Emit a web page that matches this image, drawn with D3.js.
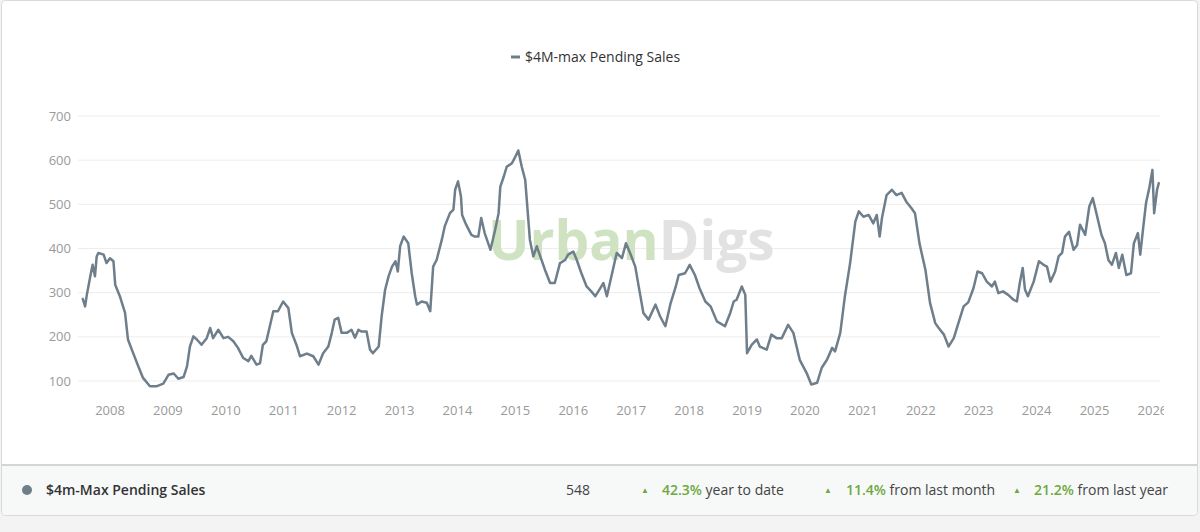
<!DOCTYPE html>
<html lang="en">
<head>
    <meta charset="UTF-8">
    <title>$4M-max Pending Sales</title>
    <script src="https://d3js.org/d3.v7.min.js"></script>
    <style>
        body {
            margin: 0;
            padding: 0;
            background: #f3f3f3;
            font-family: "Open Sans", Arial, sans-serif;
        }
        .grid line { stroke: #ededed; stroke-width: 1; }
        .tick-label { fill: #999; font-size: 13px; }
        .series-line {
            fill: none;
            stroke: #6e7e8b;
            stroke-width: 2.5;
            stroke-linejoin: round;
            stroke-linecap: round;
        }
    </style>
</head>
<body>
<div id="chart"></div>
<script>
    // decimal years
    const dates = [
        2007.53, 2007.57, 2007.60, 2007.66, 2007.70, 2007.74, 2007.77, 2007.80, 2007.89, 2007.94,
        2008.00, 2008.06, 2008.09, 2008.17, 2008.26, 2008.31, 2008.40, 2008.49, 2008.57, 2008.69,
        2008.80, 2008.92, 2009.01, 2009.10, 2009.18, 2009.27, 2009.33, 2009.38, 2009.44, 2009.50,
        2009.58, 2009.67, 2009.73, 2009.78, 2009.87, 2009.96, 2010.04, 2010.13, 2010.21, 2010.30,
        2010.39, 2010.44, 2010.53, 2010.59, 2010.64, 2010.70, 2010.76, 2010.82, 2010.90, 2010.99,
        2011.08, 2011.14, 2011.23, 2011.28, 2011.40, 2011.51, 2011.60, 2011.68, 2011.77, 2011.83,
        2011.88, 2011.94, 2012.00, 2012.09, 2012.17, 2012.23, 2012.29, 2012.34, 2012.43, 2012.49,
        2012.54, 2012.64, 2012.69, 2012.75, 2012.81, 2012.87, 2012.93, 2012.97, 2013.01, 2013.07,
        2013.15, 2013.21, 2013.27, 2013.30, 2013.38, 2013.47, 2013.53, 2013.58, 2013.64, 2013.73,
        2013.78, 2013.87, 2013.93, 2013.96, 2014.01, 2014.06, 2014.08, 2014.15, 2014.24, 2014.30,
        2014.36, 2014.41, 2014.47, 2014.57, 2014.65, 2014.71, 2014.74, 2014.80, 2014.85, 2014.94,
        2015.00, 2015.05, 2015.11, 2015.17, 2015.21, 2015.25, 2015.31, 2015.37, 2015.43, 2015.51,
        2015.60, 2015.68, 2015.77, 2015.86, 2015.91, 2016.00, 2016.06, 2016.14, 2016.23, 2016.31,
        2016.38, 2016.47, 2016.52, 2016.58, 2016.67, 2016.75, 2016.84, 2016.91, 2016.98, 2017.07,
        2017.15, 2017.21, 2017.30, 2017.42, 2017.50, 2017.59, 2017.68, 2017.77, 2017.82, 2017.93,
        2018.01, 2018.10, 2018.18, 2018.28, 2018.37, 2018.48, 2018.62, 2018.71, 2018.77, 2018.82,
        2018.91, 2018.97, 2019.00, 2019.08, 2019.17, 2019.22, 2019.34, 2019.42, 2019.51, 2019.60,
        2019.71, 2019.80, 2019.91, 2020.03, 2020.11, 2020.21, 2020.29, 2020.38, 2020.47, 2020.52,
        2020.61, 2020.69, 2020.78, 2020.87, 2020.93, 2021.01, 2021.10, 2021.18, 2021.24, 2021.29,
        2021.33, 2021.41, 2021.50, 2021.58, 2021.67, 2021.75, 2021.84, 2021.90, 2021.98, 2022.08,
        2022.16, 2022.25, 2022.31, 2022.40, 2022.48, 2022.57, 2022.65, 2022.74, 2022.82, 2022.91,
        2022.98, 2023.06, 2023.14, 2023.23, 2023.28, 2023.34, 2023.42, 2023.51, 2023.60, 2023.66,
        2023.71, 2023.76, 2023.80, 2023.85, 2023.95, 2024.04, 2024.12, 2024.18, 2024.24, 2024.32,
        2024.38, 2024.44, 2024.49, 2024.56, 2024.64, 2024.70, 2024.75, 2024.84, 2024.91, 2024.97,
        2025.04, 2025.12, 2025.18, 2025.24, 2025.30, 2025.37, 2025.42, 2025.48, 2025.55, 2025.63,
        2025.68, 2025.75, 2025.79, 2025.84, 2025.89, 2025.95, 2026.00, 2026.03, 2026.08, 2026.11
    ];

    const pendingSales = [
        286, 269, 295, 337, 363, 337, 382, 390, 386, 367,
        378, 371, 318, 292, 254, 194, 163, 133, 107, 88,
        88, 94, 114, 117, 105, 109, 133, 178, 201, 194,
        182, 197, 220, 197, 216, 197, 200, 190, 175, 152,
        145, 157, 137, 140, 182, 190, 224, 258, 258, 280,
        265, 209, 178, 156, 162, 156, 137, 163, 178, 209,
        239, 243, 209, 209, 216, 198, 216, 212, 212, 171,
        163, 178, 246, 306, 337, 359, 371, 348, 405, 427,
        412, 344, 292, 273, 280, 277, 258, 359, 374, 420,
        450, 480, 488, 533, 552, 518, 476, 454, 431, 427,
        427, 469, 435, 397, 442, 480, 540, 563, 585, 593,
        608, 622, 585, 555, 488, 420, 382, 405, 382, 352,
        322, 322, 367, 374, 386, 393, 374, 344, 314, 303,
        292, 311, 322, 292, 344, 390, 378, 412, 390, 359,
        299, 254, 239, 273, 246, 224, 276, 314, 340, 344,
        363, 340, 310, 280, 269, 235, 224, 254, 280, 284,
        314, 295, 163, 182, 194, 178, 171, 205, 197, 197,
        227, 209, 148, 118, 92, 96, 130, 148, 175, 167,
        209, 292, 367, 461, 484, 472, 476, 457, 476, 427,
        469, 521, 533, 521, 526, 506, 491, 480, 410, 352,
        277, 231, 220, 205, 178, 197, 231, 269, 278, 310,
        348, 344, 325, 314, 325, 299, 303, 295, 284, 280,
        322, 356, 307, 292, 325, 371, 363, 359, 325, 348,
        382, 390, 427, 438, 397, 408, 454, 431, 495, 514,
        476, 431, 412, 374, 363, 390, 356, 386, 340, 344,
        412, 435, 386, 446, 503, 540, 578, 480, 533, 548
    ];

    const yearTicks = d3.range(2008, 2027);
    const valueTicks = [100, 200, 300, 400, 500, 600, 700];

    const seriesName = "$4M-max Pending Sales";
    const footerName = "$4m-Max Pending Sales";
    const latestValue = "548";
    const changes = [
        { pct: "42.3%", label: " year to date" },
        { pct: "11.4%", label: " from last month" },
        { pct: "21.2%", label: " from last year" }
    ];

    const width = 1200;
    const height = 532;
    const lineColor = "#6e7e8b";
    const green = "#6fa841";

    const svg = d3.select("#chart")
        .append("svg")
        .attr("width", width)
        .attr("height", height)
        .style("display", "block");

    // card + footer panel
    svg.append("rect")
        .attr("x", 0).attr("y", 0)
        .attr("width", width).attr("height", height)
        .attr("fill", "#f3f3f3");

    svg.append("rect")
        .attr("x", 1.5).attr("y", 0.5)
        .attr("width", 1196).attr("height", 515)
        .attr("rx", 4)
        .attr("fill", "#fff")
        .attr("stroke", "#d9d9d9");

    svg.append("path")
        .attr("d", "M2,465 H1197 V511 Q1197,515 1193,515 H6 Q2,515 2,511 Z")
        .attr("fill", "#f7f8f8");

    svg.append("line")
        .attr("x1", 2).attr("x2", 1197)
        .attr("y1", 465).attr("y2", 465)
        .attr("stroke", "#d4d4d4")
        .attr("stroke-width", 2);

    const x = d3.scaleLinear()
        .domain([2008, 2025])
        .range([110, 1094.5]);

    const y = d3.scaleLinear()
        .domain([100, 700])
        .range([381, 116]);

    // gridlines
    svg.append("g")
        .attr("class", "grid")
        .selectAll("line")
        .data(valueTicks)
        .join("line")
        .attr("x1", 78)
        .attr("x2", 1160)
        .attr("y1", d => y(d))
        .attr("y2", d => y(d));

    svg.append("g")
        .selectAll("text")
        .data(valueTicks)
        .join("text")
        .attr("class", "tick-label")
        .attr("x", 71)
        .attr("y", d => y(d))
        .attr("dy", "0.35em")
        .attr("text-anchor", "end")
        .text(d => d);

    // last year label is cut at the card edge in the original
    svg.append("clipPath")
        .attr("id", "xclip")
        .append("rect")
        .attr("x", 0).attr("y", 390)
        .attr("width", 1164).attr("height", 40);

    svg.append("g")
        .attr("clip-path", "url(#xclip)")
        .selectAll("text")
        .data(yearTicks)
        .join("text")
        .attr("class", "tick-label")
        .attr("x", d => x(d))
        .attr("y", 410)
        .attr("dy", "0.35em")
        .attr("text-anchor", "middle")
        .text(d => d);

    // watermark
    const mark = svg.append("text")
        .attr("x", 488)
        .attr("y", 260)
        .attr("font-size", 55)
        .attr("font-weight", 700);
    mark.append("tspan").attr("fill", "#cfe3c2").text("Urban");
    mark.append("tspan").attr("fill", "#e2e2e2").text("Digs");

    // series
    const data = dates.map((d, i) => ({ date: d, value: pendingSales[i] }));

    svg.append("path")
        .datum(data)
        .attr("class", "series-line")
        .attr("d", d3.line()
            .x(d => x(d.date))
            .y(d => y(d.value)));

    // legend
    svg.append("line")
        .attr("x1", 511).attr("x2", 520)
        .attr("y1", 57).attr("y2", 57)
        .attr("stroke", lineColor)
        .attr("stroke-width", 3);

    svg.append("text")
        .attr("x", 525)
        .attr("y", 57)
        .attr("dy", "0.35em")
        .attr("font-size", 14)
        .attr("fill", "#333")
        .text(seriesName);

    // footer row
    svg.append("circle")
        .attr("cx", 27).attr("cy", 490).attr("r", 5)
        .attr("fill", lineColor);

    svg.append("text")
        .attr("x", 46).attr("y", 490)
        .attr("dy", "0.35em")
        .attr("font-size", 14)
        .attr("font-weight", 600)
        .attr("fill", "#333")
        .text(footerName);

    svg.append("text")
        .attr("x", 590).attr("y", 490)
        .attr("dy", "0.35em")
        .attr("text-anchor", "end")
        .attr("font-size", 14)
        .attr("fill", "#444")
        .text(latestValue);

    const arrowX = [645, 828, 1017];
    const pctX = [662, 846, 1034];
    changes.forEach((c, i) => {
        svg.append("text")
            .attr("x", arrowX[i]).attr("y", 490)
            .attr("dy", "0.35em")
            .attr("text-anchor", "middle")
            .attr("font-size", 8)
            .attr("fill", green)
            .text("▲");
        const t = svg.append("text")
            .attr("x", pctX[i]).attr("y", 490)
            .attr("dy", "0.35em")
            .attr("font-size", 14)
            .attr("xml:space", "preserve");
        t.append("tspan")
            .attr("font-weight", 600)
            .attr("fill", green)
            .text(c.pct);
        t.append("tspan")
            .attr("fill", "#444")
            .text(c.label);
    });
</script>
</body>
</html>
